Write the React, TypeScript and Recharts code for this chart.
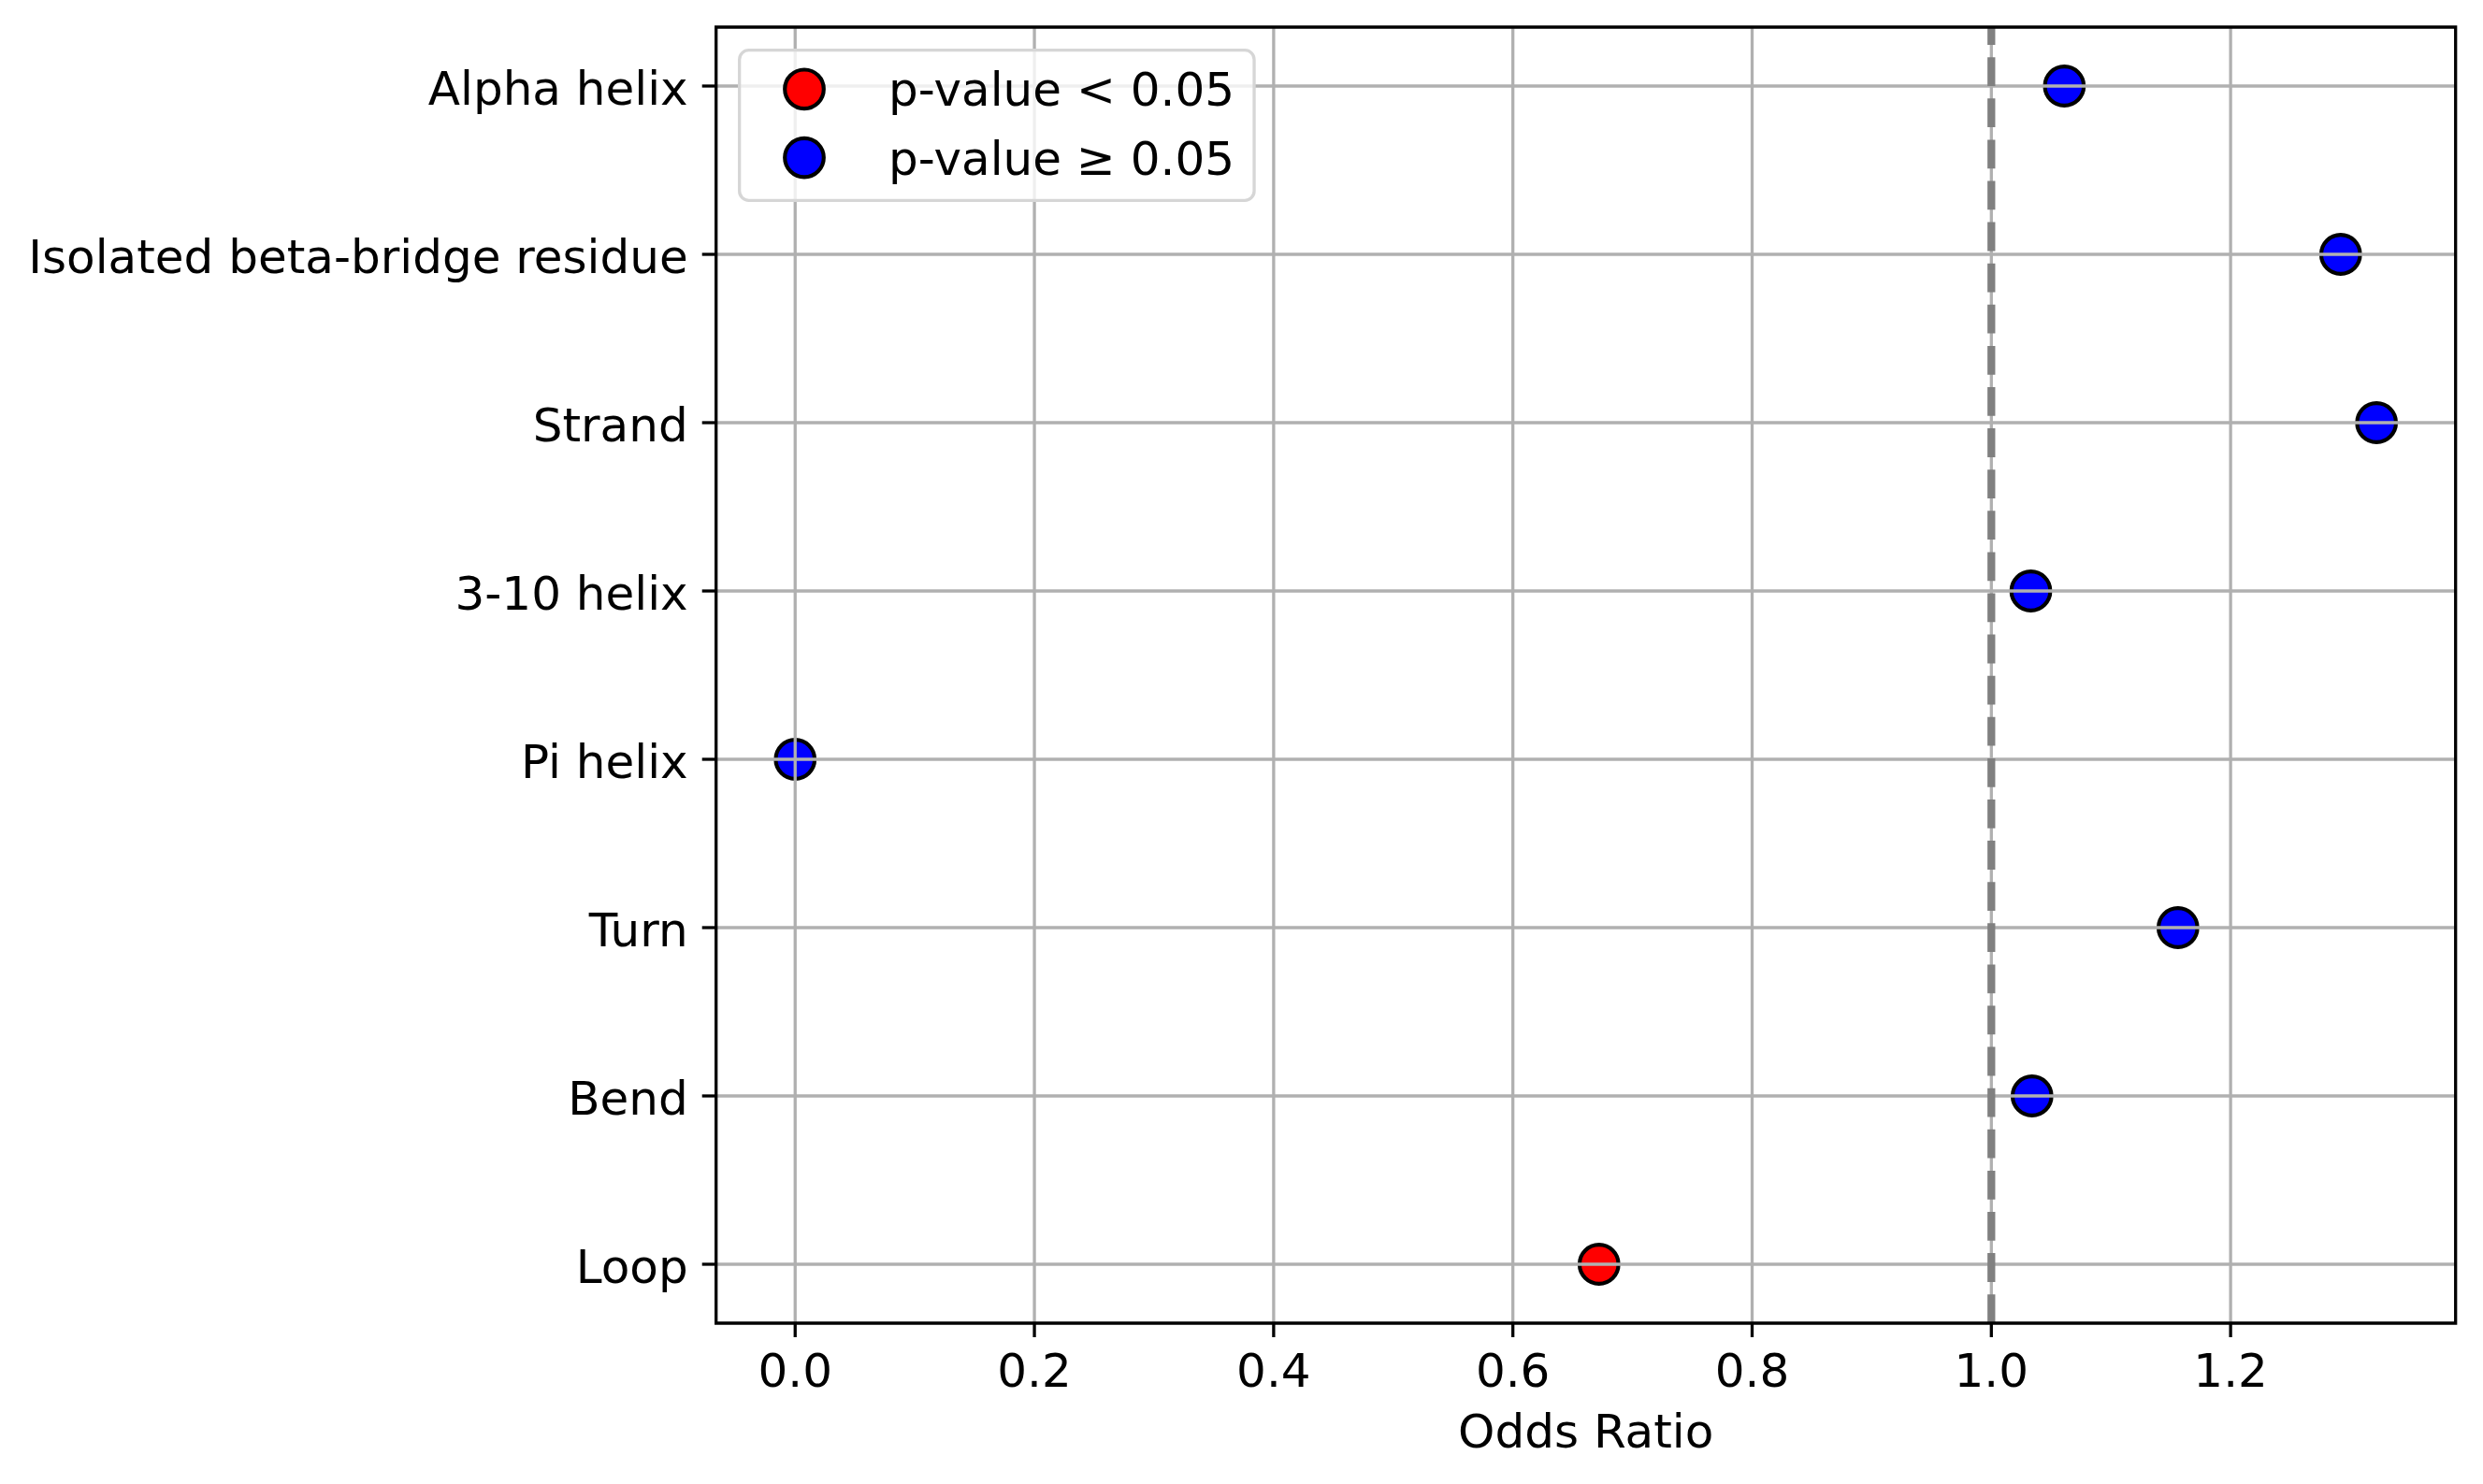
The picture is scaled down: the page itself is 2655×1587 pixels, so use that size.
import React from 'react';
import {
  ScatterChart,
  Scatter,
  XAxis,
  YAxis,
  ReferenceLine,
  ReferenceArea,
  Legend,
} from 'recharts';

// ---- data ----
const categories = [
  'Alpha helix',
  'Isolated beta-bridge residue',
  'Strand',
  '3-10 helix',
  'Pi helix',
  'Turn',
  'Bend',
  'Loop',
];
const oddsRatios = [1.061, 1.292, 1.322, 1.033, 0.0, 1.156, 1.034, 0.672];
const significant = [false, false, false, false, false, false, false, true];
const xTicks = [0, 0.2, 0.4, 0.6, 0.8, 1.0, 1.2];
const referenceOdds = 1.0;
const xAxisLabel = 'Odds Ratio';
const legendLabels = ['p-value < 0.05', 'p-value \u2265 0.05'];
const legendColors = ['#ff0000', '#0000ff'];

// ---- derived ----
const sigData = oddsRatios
  .map((x, i) => ({ x, y: i, name: categories[i] }))
  .filter((_, i) => significant[i]);
const nonSigData = oddsRatios
  .map((x, i) => ({ x, y: i, name: categories[i] }))
  .filter((_, i) => !significant[i]);
const yIdx = categories.map((_, i) => i);

const xMin = Math.min(...oddsRatios);
const xMax = Math.max(...oddsRatios);
const xPad = 0.05 * (xMax - xMin);
const xDomain = [xMin - xPad, xMax + xPad];
const yPad = 0.05 * (categories.length - 1);
const yDomain = [-yPad, categories.length - 1 + yPad];

const FONT = '"DejaVu Sans", sans-serif';
const W = 2639;
const H = 1571;
const GRID = '#b0b0b0';
const LW = 3.3;
const R = 20.8;
const EDGE = 4.17;

const dot = (color: string) => (props: any) => {
  const { cx, cy } = props;
  if (cx == null || cy == null) return <g />;
  return <circle cx={cx} cy={cy} r={R} fill={color} stroke="#000" strokeWidth={EDGE} />;
};

const YTick = (props: any) => {
  const { x, y, payload } = props;
  return (
    <text x={x} y={y} dy={20} textAnchor="end" fontSize={50} fontFamily={FONT} fill="#000">
      {categories[payload.value]}
    </text>
  );
};

const XTick = (props: any) => {
  const { x, y, payload } = props;
  return (
    <text x={x} y={y} dy={38} textAnchor="middle" fontSize={50} fontFamily={FONT} fill="#000">
      {Number(payload.value).toFixed(1)}
    </text>
  );
};

const XLabel = (props: any) => {
  const vb = props.viewBox || {};
  return (
    <text
      x={vb.x + vb.width / 2}
      y={vb.y + 133}
      textAnchor="middle"
      fontSize={50}
      fontFamily={FONT}
      fill="#000"
    >
      {xAxisLabel}
    </text>
  );
};

const LegendBox = () => (
  <svg width={554} height={164} style={{ display: 'block', overflow: 'visible' }}>
    <rect
      x={1.65}
      y={1.65}
      width={550.4}
      height={160.7}
      rx={10}
      ry={10}
      fill="#ffffff"
      fillOpacity={0.8}
      stroke="#d6d6d6"
      strokeWidth={LW}
    />
    {legendLabels.map((label, i) => (
      <g key={label}>
        <circle cx={71} cy={43.3 + i * 73.3} r={R} fill={legendColors[i]} stroke="#000" strokeWidth={EDGE} />
        <text x={161} y={61.35 + i * 73.3} fontSize={50} fontFamily={FONT} fill="#000">
          {label}
        </text>
      </g>
    ))}
  </svg>
);

const DashedShape = (props: any) => {
  const { x1, x2, y1, y2 } = props;
  const yb = Math.max(y1, y2);
  const yt = Math.min(y1, y2);
  return (
    <line
      x1={x1}
      y1={yb}
      x2={x2}
      y2={yt}
      stroke="#808080"
      strokeWidth={8.3}
      strokeDasharray="30.8 13.3"
    />
  );
};

export default function App() {
  return (
    <div style={{ width: W, height: H, fontFamily: FONT }}>
      <ScatterChart
        width={W}
        height={H}
        margin={{ top: 21, right: 21.3, bottom: 0, left: 0 }}
      >
        <XAxis
          type="number"
          dataKey="x"
          domain={xDomain}
          ticks={xTicks}
          allowDataOverflow
          interval={0}
          height={164}
          axisLine={false}
          tickSize={15}
          tickMargin={15}
          tickLine={{ stroke: '#000', strokeWidth: LW }}
          tick={XTick}
          label={{ content: XLabel }}
        />
        <YAxis
          type="number"
          dataKey="y"
          domain={yDomain}
          ticks={yIdx}
          reversed
          allowDataOverflow
          interval={0}
          width={757.7}
          axisLine={false}
          tickSize={15}
          tickMargin={15}
          tickLine={{ stroke: '#000', strokeWidth: LW }}
          tick={YTick}
        />
        <Scatter
          name={legendLabels[1]}
          data={nonSigData}
          fill={legendColors[1]}
          shape={dot(legendColors[1])}
          isAnimationActive={false}
        />
        <Scatter
          name={legendLabels[0]}
          data={sigData}
          fill={legendColors[0]}
          shape={dot(legendColors[0])}
          isAnimationActive={false}
        />
        {xTicks.map((v) => (
          <ReferenceLine
            key={'gx' + v}
            x={v}
            stroke={GRID}
            strokeWidth={LW}
            zIndex={700}
            ifOverflow="hidden"
          />
        ))}
        {yIdx.map((v) => (
          <ReferenceLine
            key={'gy' + v}
            y={v}
            stroke={GRID}
            strokeWidth={LW}
            zIndex={700}
            ifOverflow="hidden"
          />
        ))}
        <ReferenceLine x={referenceOdds} shape={DashedShape} zIndex={710} ifOverflow="hidden" />
        <ReferenceArea
          x1={xDomain[0]}
          x2={xDomain[1]}
          y1={yDomain[0]}
          y2={yDomain[1]}
          fill="none"
          fillOpacity={0}
          stroke="#000"
          strokeWidth={LW}
          ifOverflow="visible"
          zIndex={720}
        />
        <Legend
          layout="vertical"
          align="center"
          verticalAlign="middle"
          content={LegendBox}
          wrapperStyle={{ position: 'absolute', left: 781, top: 43.65, width: 554, height: 164 }}
        />
      </ScatterChart>
    </div>
  );
}
